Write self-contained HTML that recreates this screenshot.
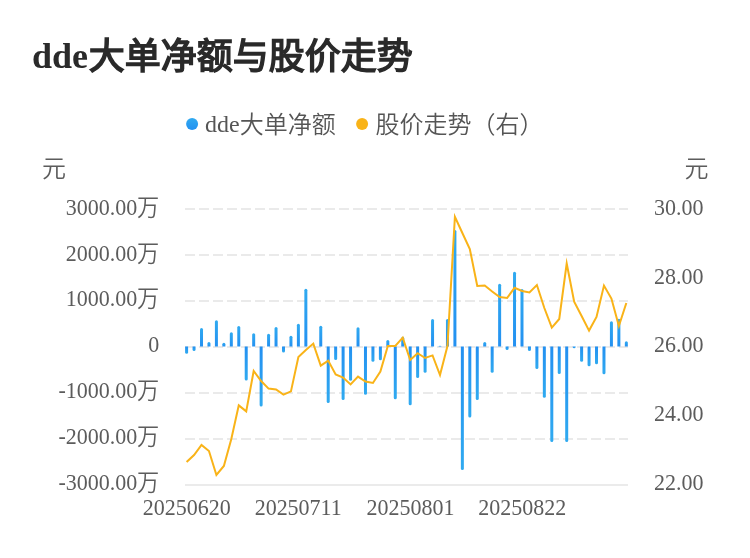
<!DOCTYPE html>
<html lang="zh-CN">
<head>
<meta charset="utf-8">
<title>dde大单净额与股价走势</title>
<style>
html,body{margin:0;padding:0;background:#fff;}
body{width:750px;height:558px;overflow:hidden;position:relative;font-family:"Liberation Serif","Noto Sans CJK SC",serif;}
svg{position:absolute;left:0;top:0;display:block;}
svg text{font-family:"Liberation Serif","Noto Sans CJK SC",serif;}
.title{font-size:36px;font-weight:bold;fill:#2a2a2a;}
.legend{font-size:24px;fill:#555;}
.axis{font-size:22px;fill:#5c5c5c;}
</style>
</head>
<body>
<svg width="750" height="558" viewBox="0 0 750 558">
<defs>
<linearGradient id="gp" x1="0" y1="0" x2="0" y2="1"><stop offset="0" stop-color="#30aaf0"/><stop offset="1" stop-color="#2390f1"/></linearGradient>
<linearGradient id="gn" x1="0" y1="0" x2="0" y2="1"><stop offset="0" stop-color="#2390f1"/><stop offset="1" stop-color="#30aaf0"/></linearGradient>
</defs>
<rect width="750" height="558" fill="#ffffff"/>
<g class="title"><text x="31.90" y="68.20">dde<tspan dx="0.8" dy="0.8" font-weight="normal" stroke="#2a2a2a" stroke-width="1.6" stroke-linejoin="miter">大单净额与股价走势</tspan></text></g>
<g class="legend">
<circle cx="192.1" cy="124.1" r="6" fill="url(#gp)"/>
<text x="205.00" y="132.00">dde<tspan dy="1" font-weight="350">大单净额</tspan></text>
<circle cx="362.1" cy="124.1" r="6" fill="#f9b318"/>
<text x="375.50" y="133.00"><tspan font-weight="350">股价走势（右）</tspan></text>
</g>
<g class="axis">
<text x="41.9" y="177.2" font-size="24" font-weight="350">元</text>
<text x="684.5" y="177.2" font-size="24" font-weight="350">元</text>
<text transform="translate(65.80 215.00) scale(1 1.06)">3000.00<tspan dx="-0.3" dy="0.6" font-size="22.2" font-weight="350">万</tspan></text><text transform="translate(65.80 261.00) scale(1 1.06)">2000.00<tspan dx="-0.3" dy="0.6" font-size="22.2" font-weight="350">万</tspan></text><text transform="translate(65.80 306.00) scale(1 1.06)">1000.00<tspan dx="-0.3" dy="0.6" font-size="22.2" font-weight="350">万</tspan></text><text transform="translate(148.30 352.00) scale(1 1.06)">0</text><text transform="translate(58.47 398.00) scale(1 1.06)">-1000.00<tspan dx="-0.3" dy="0.6" font-size="22.2" font-weight="350">万</tspan></text><text transform="translate(58.47 444.00) scale(1 1.06)">-2000.00<tspan dx="-0.3" dy="0.6" font-size="22.2" font-weight="350">万</tspan></text><text transform="translate(58.47 490.00) scale(1 1.06)">-3000.00<tspan dx="-0.3" dy="0.6" font-size="22.2" font-weight="350">万</tspan></text>
<text transform="translate(653.90 215.00) scale(1 1.06)">30.00</text><text transform="translate(653.90 284.00) scale(1 1.06)">28.00</text><text transform="translate(653.90 352.00) scale(1 1.06)">26.00</text><text transform="translate(653.90 421.00) scale(1 1.06)">24.00</text><text transform="translate(653.90 490.00) scale(1 1.06)">22.00</text>
<text transform="translate(142.85 515.00) scale(1 1.06)">20250620</text><text transform="translate(254.64 515.00) scale(1 1.06)">20250711</text><text transform="translate(366.44 515.00) scale(1 1.06)">20250801</text><text transform="translate(478.24 515.00) scale(1 1.06)">20250822</text>
</g>
<g stroke="#eaeaea" stroke-width="2" stroke-dasharray="10 4" fill="none"><line x1="185" x2="628" y1="209" y2="209"/><line x1="185" x2="628" y1="255" y2="255"/><line x1="185" x2="628" y1="301" y2="301"/><line x1="185" x2="628" y1="347" y2="347"/><line x1="185" x2="628" y1="393" y2="393"/><line x1="185" x2="628" y1="439" y2="439"/></g>
<line x1="185" x2="628" y1="485" y2="485" stroke="#ebebeb" stroke-width="2"/>
<g fill="url(#gp)"><path d="M200.01 346.5V329.60Q200.01 328.10 201.51 328.10Q203.01 328.10 203.01 329.60V346.5Z"/><path d="M207.46 346.5V343.60Q207.46 342.10 208.96 342.10Q210.46 342.10 210.46 343.60V346.5Z"/><path d="M214.91 346.5V321.80Q214.91 320.30 216.41 320.30Q217.91 320.30 217.91 321.80V346.5Z"/><path d="M222.37 346.5V344.20Q222.37 342.70 223.87 342.70Q225.37 342.70 225.37 344.20V346.5Z"/><path d="M229.82 346.5V333.80Q229.82 332.30 231.32 332.30Q232.82 332.30 232.82 333.80V346.5Z"/><path d="M237.27 346.5V327.40Q237.27 325.90 238.77 325.90Q240.27 325.90 240.27 327.40V346.5Z"/><path d="M252.18 346.5V334.80Q252.18 333.30 253.68 333.30Q255.18 333.30 255.18 334.80V346.5Z"/><path d="M267.08 346.5V335.20Q267.08 333.70 268.58 333.70Q270.08 333.70 270.08 335.20V346.5Z"/><path d="M274.54 346.5V328.60Q274.54 327.10 276.04 327.10Q277.54 327.10 277.54 328.60V346.5Z"/><path d="M289.44 346.5V337.20Q289.44 335.70 290.94 335.70Q292.44 335.70 292.44 337.20V346.5Z"/><path d="M296.89 346.5V325.20Q296.89 323.70 298.39 323.70Q299.89 323.70 299.89 325.20V346.5Z"/><path d="M304.35 346.5V290.20Q304.35 288.70 305.85 288.70Q307.35 288.70 307.35 290.20V346.5Z"/><path d="M319.25 346.5V327.20Q319.25 325.70 320.75 325.70Q322.25 325.70 322.25 327.20V346.5Z"/><path d="M356.52 346.5V328.80Q356.52 327.30 358.02 327.30Q359.52 327.30 359.52 328.80V346.5Z"/><path d="M386.33 346.5V341.60Q386.33 340.10 387.83 340.10Q389.33 340.10 389.33 341.60V346.5Z"/><path d="M401.24 346.5V338.20Q401.24 336.70 402.74 336.70Q404.24 336.70 404.24 338.20V346.5Z"/><path d="M431.05 346.5V320.60Q431.05 319.10 432.55 319.10Q434.05 319.10 434.05 320.60V346.5Z"/><path d="M438.50 346.5V346.50Q438.50 345.80 440.00 345.80Q441.50 345.80 441.50 346.50V346.5Z"/><path d="M445.96 346.5V320.60Q445.96 319.10 447.46 319.10Q448.96 319.10 448.96 320.60V346.5Z"/><path d="M453.41 346.5V231.60Q453.41 230.10 454.91 230.10Q456.41 230.10 456.41 231.60V346.5Z"/><path d="M483.22 346.5V343.60Q483.22 342.10 484.72 342.10Q486.22 342.10 486.22 343.60V346.5Z"/><path d="M498.13 346.5V285.30Q498.13 283.80 499.63 283.80Q501.13 283.80 501.13 285.30V346.5Z"/><path d="M513.03 346.5V273.30Q513.03 271.80 514.53 271.80Q516.03 271.80 516.03 273.30V346.5Z"/><path d="M520.49 346.5V290.60Q520.49 289.10 521.99 289.10Q523.49 289.10 523.49 290.60V346.5Z"/><path d="M609.92 346.5V322.80Q609.92 321.30 611.42 321.30Q612.92 321.30 612.92 322.80V346.5Z"/><path d="M617.37 346.5V320.20Q617.37 318.70 618.87 318.70Q620.37 318.70 620.37 320.20V346.5Z"/><path d="M624.83 346.5V342.80Q624.83 341.30 626.33 341.30Q627.83 341.30 627.83 342.80V346.5Z"/></g>
<g fill="url(#gn)"><path d="M185.10 346.5V352.20Q185.10 353.70 186.60 353.70Q188.10 353.70 188.10 352.20V346.5Z"/><path d="M192.55 346.5V349.60Q192.55 351.10 194.05 351.10Q195.55 351.10 195.55 349.60V346.5Z"/><path d="M244.72 346.5V379.00Q244.72 380.50 246.22 380.50Q247.72 380.50 247.72 379.00V346.5Z"/><path d="M259.63 346.5V405.00Q259.63 406.50 261.13 406.50Q262.63 406.50 262.63 405.00V346.5Z"/><path d="M281.99 346.5V351.00Q281.99 352.50 283.49 352.50Q284.99 352.50 284.99 351.00V346.5Z"/><path d="M326.71 346.5V401.40Q326.71 402.90 328.21 402.90Q329.71 402.90 329.71 401.40V346.5Z"/><path d="M334.16 346.5V358.60Q334.16 360.10 335.66 360.10Q337.16 360.10 337.16 358.60V346.5Z"/><path d="M341.61 346.5V398.60Q341.61 400.10 343.11 400.10Q344.61 400.10 344.61 398.60V346.5Z"/><path d="M349.07 346.5V379.20Q349.07 380.70 350.57 380.70Q352.07 380.70 352.07 379.20V346.5Z"/><path d="M363.97 346.5V393.20Q363.97 394.70 365.47 394.70Q366.97 394.70 366.97 393.20V346.5Z"/><path d="M371.43 346.5V360.20Q371.43 361.70 372.93 361.70Q374.43 361.70 374.43 360.20V346.5Z"/><path d="M378.88 346.5V358.80Q378.88 360.30 380.38 360.30Q381.88 360.30 381.88 358.80V346.5Z"/><path d="M393.78 346.5V397.80Q393.78 399.30 395.28 399.30Q396.78 399.30 396.78 397.80V346.5Z"/><path d="M408.69 346.5V403.80Q408.69 405.30 410.19 405.30Q411.69 405.30 411.69 403.80V346.5Z"/><path d="M416.14 346.5V376.60Q416.14 378.10 417.64 378.10Q419.14 378.10 419.14 376.60V346.5Z"/><path d="M423.60 346.5V371.20Q423.60 372.70 425.10 372.70Q426.60 372.70 426.60 371.20V346.5Z"/><path d="M460.86 346.5V468.40Q460.86 469.90 462.36 469.90Q463.86 469.90 463.86 468.40V346.5Z"/><path d="M468.31 346.5V416.00Q468.31 417.50 469.81 417.50Q471.31 417.50 471.31 416.00V346.5Z"/><path d="M475.77 346.5V398.60Q475.77 400.10 477.27 400.10Q478.77 400.10 478.77 398.60V346.5Z"/><path d="M490.67 346.5V371.20Q490.67 372.70 492.17 372.70Q493.67 372.70 493.67 371.20V346.5Z"/><path d="M505.58 346.5V348.40Q505.58 349.90 507.08 349.90Q508.58 349.90 508.58 348.40V346.5Z"/><path d="M527.94 346.5V349.40Q527.94 350.90 529.44 350.90Q530.94 350.90 530.94 349.40V346.5Z"/><path d="M535.39 346.5V367.60Q535.39 369.10 536.89 369.10Q538.39 369.10 538.39 367.60V346.5Z"/><path d="M542.84 346.5V396.20Q542.84 397.70 544.34 397.70Q545.84 397.70 545.84 396.20V346.5Z"/><path d="M550.30 346.5V440.60Q550.30 442.10 551.80 442.10Q553.30 442.10 553.30 440.60V346.5Z"/><path d="M557.75 346.5V372.60Q557.75 374.10 559.25 374.10Q560.75 374.10 560.75 372.60V346.5Z"/><path d="M565.20 346.5V440.60Q565.20 442.10 566.70 442.10Q568.20 442.10 568.20 440.60V346.5Z"/><path d="M572.66 346.5V346.80Q572.66 348.30 574.16 348.30Q575.66 348.30 575.66 346.80V346.5Z"/><path d="M580.11 346.5V360.20Q580.11 361.70 581.61 361.70Q583.11 361.70 583.11 360.20V346.5Z"/><path d="M587.56 346.5V364.80Q587.56 366.30 589.06 366.30Q590.56 366.30 590.56 364.80V346.5Z"/><path d="M595.01 346.5V362.80Q595.01 364.30 596.51 364.30Q598.01 364.30 598.01 362.80V346.5Z"/><path d="M602.47 346.5V372.80Q602.47 374.30 603.97 374.30Q605.47 374.30 605.47 372.80V346.5Z"/></g>
<polyline points="186.60,462.00 194.05,455.00 201.51,445.00 208.96,451.00 216.41,475.00 223.87,466.00 231.32,439.00 238.77,405.40 246.22,411.40 253.68,371.00 261.13,381.00 268.58,388.60 276.04,389.40 283.49,394.60 290.94,391.40 298.39,357.00 305.85,350.00 313.30,343.60 320.75,365.60 328.21,360.60 335.66,374.40 343.11,377.60 350.57,384.40 358.02,376.60 365.47,381.60 372.93,383.00 380.38,371.60 387.83,346.00 395.28,346.00 402.74,337.60 410.19,360.00 417.64,353.20 425.10,358.00 432.55,355.40 440.00,375.00 447.46,346.00 454.91,216.80 462.36,233.00 469.81,249.00 477.27,286.00 484.72,285.50 492.17,291.50 499.63,297.00 507.08,298.00 514.53,287.80 521.99,291.00 529.44,292.40 536.89,285.00 544.34,308.00 551.80,327.60 559.25,319.00 566.70,263.50 574.16,301.60 581.61,316.00 589.06,330.60 596.51,317.00 603.97,285.60 611.42,298.60 618.87,326.00 626.33,303.00" fill="none" stroke="#f9b318" stroke-width="2" stroke-linejoin="miter" stroke-miterlimit="10" stroke-linecap="butt"/>
</svg>
</body>
</html>
